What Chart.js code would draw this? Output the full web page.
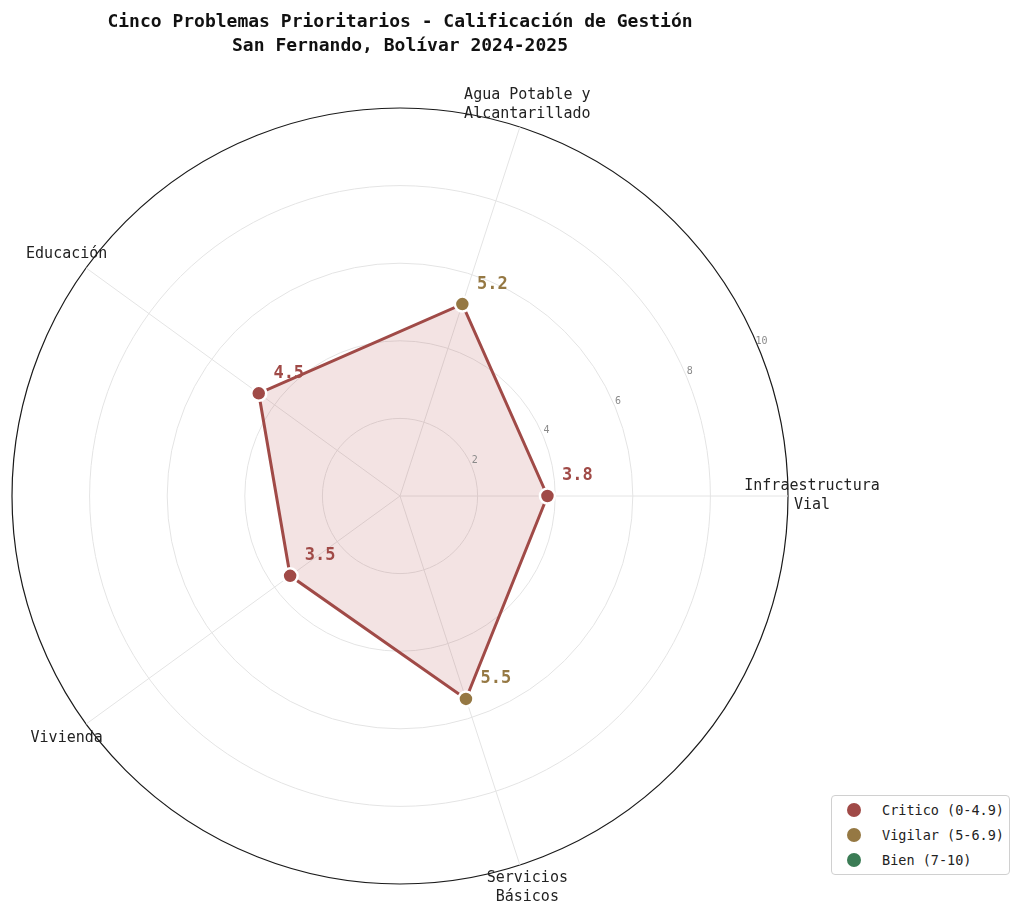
<!DOCTYPE html>
<html>
<head>
<meta charset="utf-8">
<script src="https://cdn.jsdelivr.net/npm/chart.js@4.4.1/dist/chart.umd.min.js"></script>
<style>
  html, body { margin: 0; padding: 0; background: #fff; }
  #wrap { position: relative; width: 1024px; height: 920px; }
  #legend {
    position: absolute; left: 831px; top: 795px; width: 177px; height: 78px;
    border: 1px solid #d0d0d0; border-radius: 4px; background: #fff;
    font-family: 'DejaVu Sans Mono', monospace; font-size: 13.5px; color: #222;
  }
  .item { position: absolute; left: 0; height: 20px; line-height: 20px; }
  .dot { position: absolute; left: 15px; top: 3px; width: 14px; height: 14px; border-radius: 50%; }
  .txt { position: absolute; left: 50px; white-space: nowrap; }
</style>
</head>
<body>
<div id="wrap">
  <canvas id="radar" width="1024" height="920"></canvas>
  <div id="legend"></div>
</div>
<script>
// Datos (orden en sentido horario desde el este)
const categories = [
    ['Infraestructura', 'Vial'],
    ['Servicios', 'Básicos'],
    ['Vivienda'],
    ['Educación'],
    ['Agua Potable y', 'Alcantarillado']
];
const scores = [3.8, 5.5, 3.5, 4.5, 5.2];
const tickValues = [2, 4, 6, 8, 10];
const legendLabels = ['Critico (0-4.9)', 'Vigilar (5-6.9)', 'Bien (7-10)'];
const legendColors = ['#a04a47', '#957843', '#3b7c55'];

const FONT = "'DejaVu Sans Mono', monospace";

function colorFor(v) {
    if (v < 5) return legendColors[0];
    if (v < 7) return legendColors[1];
    return legendColors[2];
}

// Etiquetas de los ticks, de los ejes y de los valores
const labelsPlugin = {
    id: 'labelsPlugin',
    afterDraw(chart) {
        const ctx = chart.ctx;
        const scale = chart.scales.r;
        const cx = scale.xCenter, cy = scale.yCenter;
        const ang = 22.5 * Math.PI / 180;

        ctx.save();
        // ticks radiales
        ctx.font = '10px ' + FONT;
        ctx.fillStyle = '#8a8a8a';
        ctx.textAlign = 'center';
        ctx.textBaseline = 'middle';
        tickValues.forEach(t => {
            const d = scale.getDistanceFromCenterForValue(t);
            ctx.fillText(String(t), cx + d * Math.cos(ang) + 3, cy - d * Math.sin(ang) - 6);
        });

        // nombres de las categorías
        ctx.font = '15px ' + FONT;
        ctx.fillStyle = '#222';
        categories.forEach((lines, i) => {
            const p = scale.getPointPosition(i, scale.drawingArea + 24);
            const lh = 19;
            const y0 = p.y - (lines.length - 1) * lh / 2;
            lines.forEach((ln, k) => ctx.fillText(ln, p.x, y0 + k * lh));
        });

        // valores
        const meta = chart.getDatasetMeta(0);
        ctx.font = 'bold 17px ' + FONT;
        meta.data.forEach((pt, i) => {
            ctx.fillStyle = colorFor(scores[i]);
            ctx.fillText(scores[i].toFixed(1), pt.x + 30, pt.y - 20);
        });
        ctx.restore();
    }
};

const ctx = document.getElementById('radar').getContext('2d');
const radarChart = new Chart(ctx, {
    type: 'radar',
    data: {
        labels: categories,
        datasets: [{
            data: scores,
            borderColor: '#a04a47',
            backgroundColor: 'rgba(175, 70, 70, 0.15)',
            borderWidth: 3,
            fill: true,
            pointRadius: 7.5,
            pointHoverRadius: 7.5,
            pointBackgroundColor: scores.map(colorFor),
            pointBorderColor: '#fff',
            pointBorderWidth: 2.5
        }]
    },
    options: {
        responsive: false,
        animation: false,
        layout: { padding: { left: 12, right: 236, top: 2, bottom: 35 } },
        plugins: {
            legend: { display: false },
            tooltip: { enabled: false },
            title: {
                display: true,
                text: ['Cinco Problemas Prioritarios - Calificación de Gestión', 'San Fernando, Bolívar 2024-2025'],
                color: '#111',
                font: { family: FONT, size: 18, weight: 'bold', lineHeight: 1.35 },
                padding: { top: 8, bottom: 50 }
            }
        },
        scales: {
            r: {
                min: 0,
                max: 10,
                startAngle: 90,
                ticks: { display: false, stepSize: 2 },
                pointLabels: { display: false },
                angleLines: { color: '#e4e4e4', lineWidth: 1 },
                grid: {
                    circular: true,
                    color: (c) => c.tick && c.tick.value === 10 ? '#1a1a1a' : '#e4e4e4',
                    lineWidth: (c) => c.tick && c.tick.value === 10 ? 1.2 : 1
                }
            }
        }
    },
    plugins: [labelsPlugin]
});

// Leyenda
const legendEl = document.getElementById('legend');
legendLabels.forEach((lab, i) => {
    const item = document.createElement('div');
    item.className = 'item';
    item.style.top = (4 + i * 25) + 'px';
    item.innerHTML = '<span class="dot" style="background:' + legendColors[i] + '"></span><span class="txt">' + lab + '</span>';
    legendEl.appendChild(item);
});
</script>
</body>
</html>
